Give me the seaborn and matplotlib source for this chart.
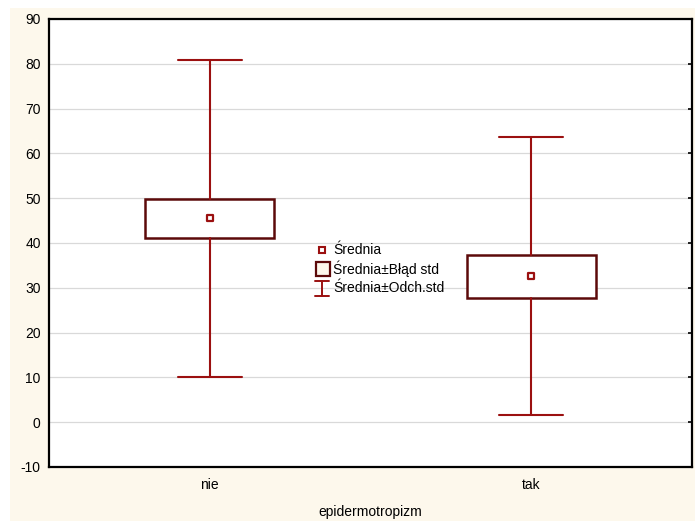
import matplotlib
matplotlib.use("Agg")
import matplotlib.pyplot as plt
from matplotlib.patches import Rectangle
from matplotlib.lines import Line2D
import seaborn as sns
import pandas as pd

# Group statistics
groups = ["nie", "tak"]
means = [45.5, 32.6]
std_errs = [4.4, 4.8]
std_devs = [35.4, 31.0]

y_ticks = [-10, 0, 10, 20, 30, 40, 50, 60, 70, 80, 90]
x_label = "epidermotropizm"
legend_labels = ["Średnia", "Średnia±Błąd std", "Średnia±Odch.std"]

box_edge = "#5c0a0a"
whisk_col = "#9b1010"
cream = "#fdf8ec"

W, H = 695, 521

sns.set_theme(style="white")
plt.rcParams["font.family"] = ["Liberation Sans", "DejaVu Sans"]

fig = plt.figure(figsize=(W / 100, H / 100), dpi=100, facecolor="white")


def fx(x):
    return x / W


def fy(y):
    return 1 - y / H


fig.patches.append(Rectangle((fx(10), 0), 1, fy(8), transform=fig.transFigure,
                             facecolor=cream, edgecolor="none", zorder=-10))
ax = fig.add_axes([fx(49), fy(467), (692 - 49) / W, (467 - 19) / H])
ax.set_facecolor("white")

stats = []
for g, m, se, sd in zip(groups, means, std_errs, std_devs):
    stats.append(dict(label=g, med=m, q1=m - se, q3=m + se,
                      whislo=m - sd, whishi=m + sd, fliers=[]))

ax.bxp(stats, positions=[0, 1], widths=0.4, showfliers=False, patch_artist=True,
       boxprops=dict(facecolor="white", edgecolor=box_edge, linewidth=1.8),
       medianprops=dict(linewidth=0),
       whiskerprops=dict(color=whisk_col, linewidth=1.5),
       capprops=dict(color=whisk_col, linewidth=1.5),
       capwidths=0.2, manage_ticks=False)

df = pd.DataFrame({"pos": [0, 1], "mean": means})
sns.scatterplot(data=df, x="pos", y="mean", marker="s", s=22, facecolor="white",
                edgecolor=whisk_col, linewidth=1.6, ax=ax, zorder=5, legend=False)

ax.set_xlim(-0.5, 1.5)
ax.set_ylim(-10, 90)
ax.set_xticks([0, 1])
ax.set_xticklabels(groups)
ax.set_yticks(y_ticks)
ax.set_yticklabels([str(t) for t in y_ticks])
ax.yaxis.grid(True, color="#d9d9d9", linewidth=0.9)
ax.xaxis.grid(False)
ax.set_axisbelow(True)
for s in ax.spines.values():
    s.set_visible(True)
    s.set_color("black")
    s.set_linewidth(1.6)
ax.tick_params(axis="both", direction="in", length=3, width=1.2, color="black",
               labelsize=10, labelcolor="black")
ax.tick_params(axis="y", right=True, pad=6)
ax.tick_params(axis="x", pad=8)
ax.set_xlabel(x_label, fontsize=10, color="black", labelpad=9)
ax.set_ylabel("")

# Key: mean marker, standard-error box, standard-deviation whisker
tf = fig.transFigure
fig.add_artist(Line2D([fx(322)], [fy(250)], marker="s", markersize=4.5,
                      markerfacecolor="white", markeredgecolor=whisk_col,
                      markeredgewidth=1.5, linestyle="none", transform=tf))
fig.add_artist(Rectangle((fx(316), fy(276)), 14 / W, 14 / H, facecolor=cream,
                         edgecolor=box_edge, linewidth=1.6, transform=tf))
for xs, ys in [([322, 322], [281, 296]), ([315, 329], [281, 281]), ([315, 329], [296, 296])]:
    fig.add_artist(Line2D([fx(v) for v in xs], [fy(v) for v in ys], color=whisk_col,
                          lw=1.4, transform=tf))
for lab, yy in zip(legend_labels, [250, 269, 288]):
    fig.text(fx(333), fy(yy), lab, fontsize=10, color="black", ha="left", va="center")

fig.savefig("out.png", dpi=100, facecolor=fig.get_facecolor())
